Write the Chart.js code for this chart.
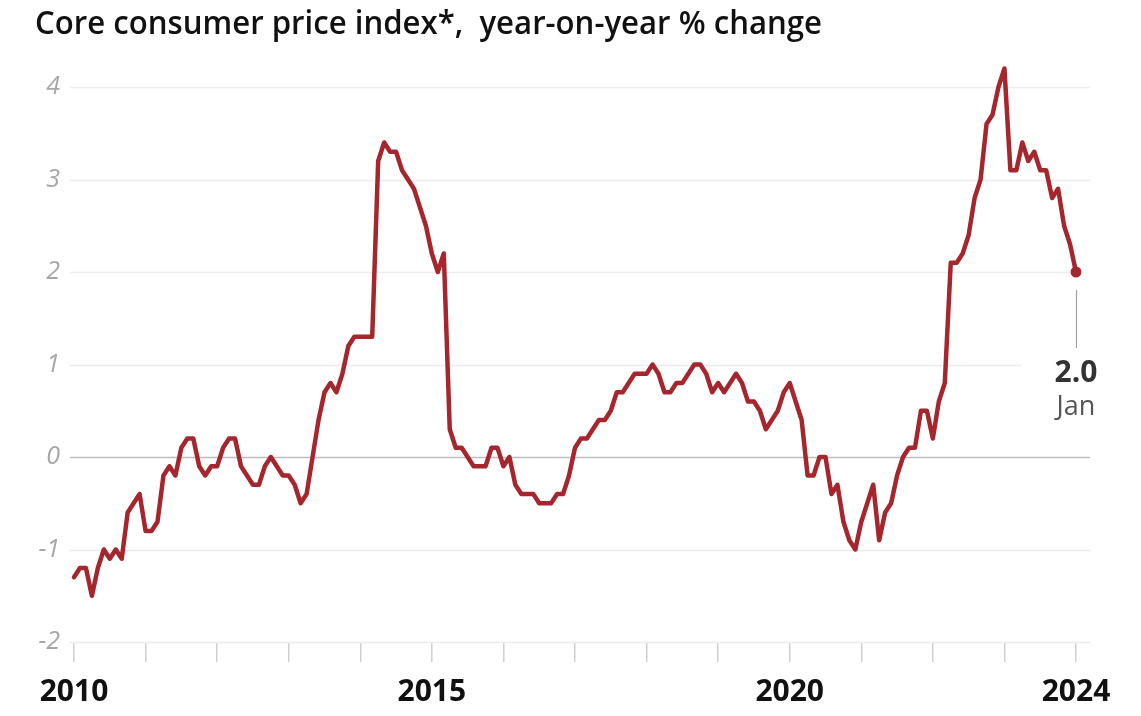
<!DOCTYPE html>
<html>
<head>
<meta charset="utf-8">
<script src="https://cdn.jsdelivr.net/npm/chart.js@4.4.1/dist/chart.umd.min.js"></script>
<style>
  html, body { margin: 0; padding: 0; background: #fff; }
  #wrap { width: 1141px; height: 716px; position: relative; }
</style>
</head>
<body>
<div id="wrap"><canvas id="cpi_canvas" width="1141" height="716"></canvas></div>
<script>
// core CPI, y/y % change, monthly Jan 2010 .. Jan 2024
var years = [2010, 2011, 2012, 2013, 2014, 2015, 2016, 2017, 2018, 2019, 2020, 2021, 2022, 2023, 2024];
var yearLabels = ['2010', '2015', '2020', '2024'];
var v2010 = [-1.3, -1.2, -1.2, -1.5, -1.2, -1.0, -1.1, -1.0, -1.1, -0.6, -0.5, -0.4];
var v2011 = [-0.8, -0.8, -0.7, -0.2, -0.1, -0.2, 0.1, 0.2, 0.2, -0.1, -0.2, -0.1];
var v2012 = [-0.1, 0.1, 0.2, 0.2, -0.1, -0.2, -0.3, -0.3, -0.1, 0.0, -0.1, -0.2];
var v2013 = [-0.2, -0.3, -0.5, -0.4, 0.0, 0.4, 0.7, 0.8, 0.7, 0.9, 1.2, 1.3];
var v2014 = [1.3, 1.3, 1.3, 3.2, 3.4, 3.3, 3.3, 3.1, 3.0, 2.9, 2.7, 2.5];
var v2015 = [2.2, 2.0, 2.2, 0.3, 0.1, 0.1, 0.0, -0.1, -0.1, -0.1, 0.1, 0.1];
var v2016 = [-0.1, 0.0, -0.3, -0.4, -0.4, -0.4, -0.5, -0.5, -0.5, -0.4, -0.4, -0.2];
var v2017 = [0.1, 0.2, 0.2, 0.3, 0.4, 0.4, 0.5, 0.7, 0.7, 0.8, 0.9, 0.9];
var v2018 = [0.9, 1.0, 0.9, 0.7, 0.7, 0.8, 0.8, 0.9, 1.0, 1.0, 0.9, 0.7];
var v2019 = [0.8, 0.7, 0.8, 0.9, 0.8, 0.6, 0.6, 0.5, 0.3, 0.4, 0.5, 0.7];
var v2020 = [0.8, 0.6, 0.4, -0.2, -0.2, 0.0, 0.0, -0.4, -0.3, -0.7, -0.9, -1.0];
var v2021 = [-0.7, -0.5, -0.3, -0.9, -0.6, -0.5, -0.2, 0.0, 0.1, 0.1, 0.5, 0.5];
var v2022 = [0.2, 0.6, 0.8, 2.1, 2.1, 2.2, 2.4, 2.8, 3.0, 3.6, 3.7, 4.0];
var v2023 = [4.2, 3.1, 3.1, 3.4, 3.2, 3.3, 3.1, 3.1, 2.8, 2.9, 2.5, 2.3];
var v2024 = [2.0];
var yTicks = [-2, -1, 0, 1, 2, 3, 4];

var values = [].concat(v2010, v2011, v2012, v2013, v2014, v2015, v2016,
  v2017, v2018, v2019, v2020, v2021, v2022, v2023, v2024);
var labels = [];
years.forEach(function(y) {
  for (var m = 0; m < 12; m++) {
    if (labels.length < values.length) labels.push(y + '-' + (m + 1));
  }
});
var last = values.length - 1;

var lineColor = '#a5262c';

// gridlines, title and the end label
var decor = {
  id: 'decor',
  beforeDatasetsDraw: function(chart) {
    var c = chart.ctx, ys = chart.scales.y;
    c.save();
    yTicks.forEach(function(t) {
      var py = Math.round(ys.getPixelForValue(t)) + 0.5;
      var x1 = 1090;
      if (t === 1) x1 = 1022;
      if (t === 2) x1 = 1070;
      c.beginPath();
      c.moveTo(70, py);
      c.lineTo(x1, py);
      c.lineWidth = 1.5;
      c.strokeStyle = t === 0 ? '#bdbdbd' : '#ececec';
      c.stroke();
    });
    c.restore();
  },
  afterDraw: function(chart) {
    var c = chart.ctx, xs = chart.scales.x, ys = chart.scales.y;
    c.save();
    // title
    var title = 'Core consumer price index*,  year-on-year % change';
    c.font = '600 32px "Open Sans"';
    c.fillStyle = '#111';
    c.textBaseline = 'alphabetic';
    var w = c.measureText(title).width;
    var sx = Math.min(1, 787 / w);
    c.translate(35, 34);
    c.scale(sx, 1);
    c.fillText(title, 0, 0);
    c.restore();

    // end annotation
    var px = xs.getPixelForValue(last);
    var py = ys.getPixelForValue(values[last]);
    c.save();
    c.beginPath();
    c.moveTo(Math.round(px) + 0.5, py + 18);
    c.lineTo(Math.round(px) + 0.5, py + 76);
    c.strokeStyle = '#a0a0a0';
    c.lineWidth = 1.2;
    c.stroke();
    c.textAlign = 'center';
    c.textBaseline = 'middle';
    c.font = 'bold 30px "Open Sans"';
    c.fillStyle = '#333';
    c.fillText(values[last].toFixed(1), px, py + 101);
    c.font = '27px "Open Sans"';
    c.fillStyle = '#555';
    c.fillText('Jan', px, py + 135);
    c.restore();
  }
};

var ctx = document.getElementById('cpi_canvas').getContext('2d');
var cpiChart = new Chart(ctx, {
  type: 'line',
  data: {
    labels: labels,
    datasets: [{
      label: 'Core CPI',
      data: values,
      borderColor: lineColor,
      backgroundColor: lineColor,
      borderWidth: 4.5,
      borderJoinStyle: 'round',
      borderCapStyle: 'round',
      tension: 0,
      fill: false,
      pointRadius: function(c) { return c.dataIndex === last ? 5.5 : 0; },
      pointHoverRadius: 0,
      pointBorderWidth: 0
    }]
  },
  options: {
    responsive: false,
    animation: false,
    devicePixelRatio: 1,
    layout: { padding: { top: 50, right: 65, bottom: 0, left: 0 } },
    plugins: {
      legend: { display: false },
      title: { display: false },
      tooltip: { enabled: false }
    },
    scales: {
      x: {
        type: 'category',
        offset: false,
        border: { display: false },
        grid: {
          display: true,
          drawOnChartArea: false,
          drawTicks: true,
          tickLength: 20,
          lineWidth: 1.5,
          tickWidth: 1.5,
          color: function(c) { return c.index % 12 === 0 ? '#cfcfcf' : 'rgba(0,0,0,0)'; },
          tickColor: function(c) { return c.index % 12 === 0 ? '#cfcfcf' : 'rgba(0,0,0,0)'; }
        },
        ticks: {
          autoSkip: false,
          maxRotation: 0,
          minRotation: 0,
          padding: 12,
          color: '#111',
          font: { family: 'Open Sans', size: 30, weight: 'bold' },
          callback: function(v, i) {
            var yr = labels[i].split('-')[0];
            if (labels[i].split('-')[1] === '1' && yearLabels.indexOf(yr) >= 0) return yr;
            return '';
          }
        },
        afterFit: function(s) { s.height = 74; }
      },
      y: {
        min: -2,
        max: 4.4,
        border: { display: false },
        grid: { display: false, drawTicks: false },
        ticks: {
          stepSize: 1,
          includeBounds: false,
          padding: 14,
          color: '#a6a6a6',
          font: { family: 'Open Sans', size: 25, style: 'italic', weight: 400 },
          callback: function(v) { return yTicks.indexOf(v) >= 0 ? String(v) : ''; }
        },
        afterFit: function(s) { s.width = 74; }
      }
    }
  },
  plugins: [decor]
});
</script>
</body>
</html>
